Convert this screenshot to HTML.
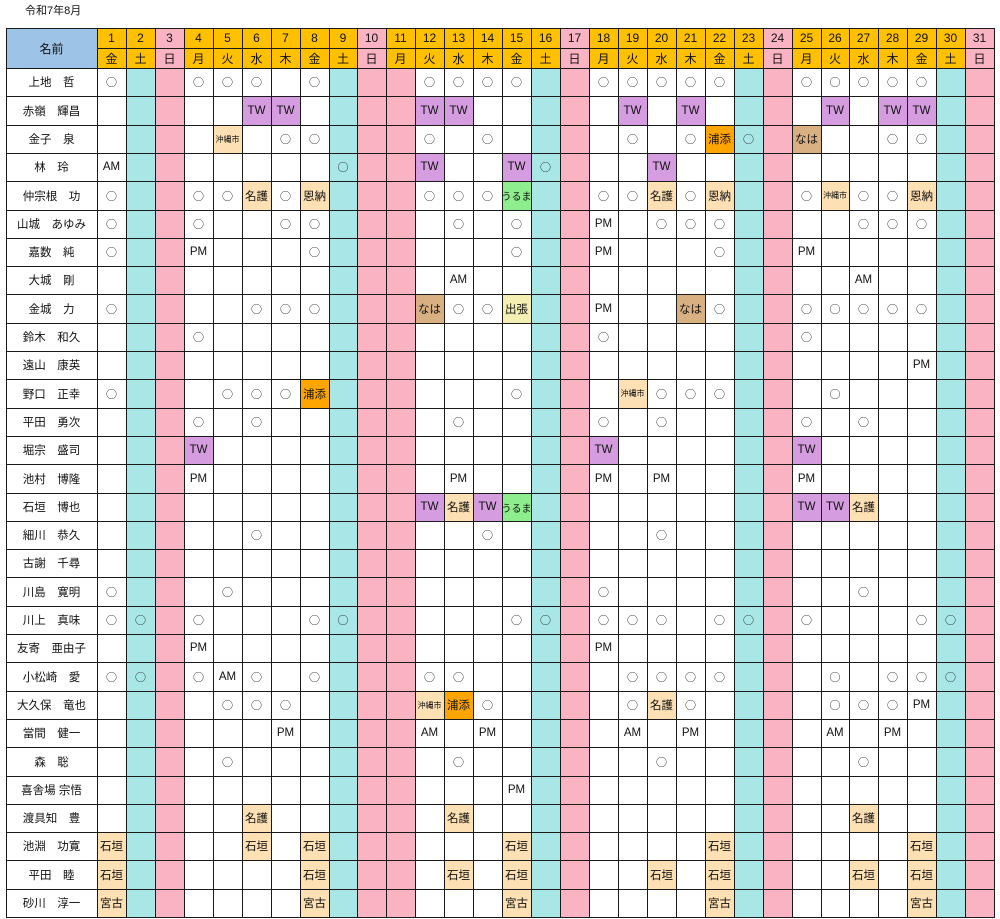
<!DOCTYPE html>
<html lang="ja">
<head>
<meta charset="utf-8">
<title>令和7年8月 スケジュール</title>
<style>
  html,body{margin:0;padding:0;background:#fff;}
  body{width:1000px;height:919px;overflow:hidden;position:relative;
       font-family:"Liberation Sans","Noto Sans CJK JP",sans-serif;color:#111;}
  #title{position:absolute;left:25px;top:2px;font-size:11px;}
  #grid{position:absolute;left:0;top:0;width:1000px;height:919px;}
  .c{position:absolute;box-sizing:border-box;display:flex;align-items:center;justify-content:center;
     font-size:11px;white-space:nowrap;overflow:hidden;}
  .o{font-family:"Noto Sans CJK JP",sans-serif;}
  .ln{position:absolute;background:#1a1a1a;}
</style>
</head>
<body>
<div id="title">令和7年8月</div>
<div id="grid"></div>
<script>
const days = [1,2,3,4,5,6,7,8,9,10,11,12,13,14,15,16,17,18,19,20,21,22,23,24,25,26,27,28,29,30,31];
const weekdays = ["金","土","日","月","火","水","木","金","土","日","月","火","水","木","金","土","日","月","火","水","木","金","土","日","月","火","水","木","金","土","日"];
const holidays = [11];
const names = ["上地　哲","赤嶺　輝昌","金子　泉","林　玲","仲宗根　功","山城　あゆみ","嘉数　純","大城　剛","金城　力","鈴木　和久","遠山　康英","野口　正幸","平田　勇次","堀宗　盛司","池村　博隆","石垣　博也","細川　恭久","古謝　千尋","川島　寛明","川上　真味","友寄　亜由子","小松崎　愛","大久保　竜也","當間　健一","森　聡","喜舎場 宗悟","渡具知　豊","池淵　功寛","平田　睦","砂川　淳一"];
const entries = [
 "1:○,4:○,5:○,6:○,8:○,12:○,13:○,14:○,15:○,18:○,19:○,20:○,21:○,22:○,25:○,26:○,27:○,28:○,29:○",
 "6:TW,7:TW,12:TW,13:TW,19:TW,21:TW,26:TW,28:TW,29:TW",
 "5:沖縄市,7:○,8:○,12:○,14:○,19:○,21:○,22:浦添!,23:○,25:なは,28:○,29:○",
 "1:AM,9:○,12:TW,15:TW,16:○,20:TW",
 "1:○,4:○,5:○,6:名護,7:○,8:恩納,12:○,13:○,14:○,15:うるま,18:○,19:○,20:名護,21:○,22:恩納,25:○,26:沖縄市,27:○,28:○,29:恩納",
 "1:○,4:○,7:○,8:○,13:○,15:○,18:PM,20:○,21:○,22:○,27:○,28:○,29:○",
 "1:○,4:PM,8:○,15:○,18:PM,22:○,25:PM",
 "13:AM,27:AM",
 "1:○,6:○,7:○,8:○,12:なは,13:○,14:○,15:出張,18:PM,21:なは,22:○,25:○,26:○,27:○,28:○,29:○",
 "4:○,18:○,25:○",
 "29:PM",
 "1:○,5:○,6:○,7:○,8:浦添!,15:○,19:沖縄市,20:○,21:○,22:○,26:○",
 "4:○,6:○,13:○,18:○,20:○,25:○,27:○",
 "4:TW,18:TW,25:TW",
 "4:PM,13:PM,18:PM,20:PM,25:PM",
 "12:TW,13:名護,14:TW,15:うるま,25:TW,26:TW,27:名護",
 "6:○,14:○,20:○",
 "",
 "1:○,5:○,18:○,27:○",
 "1:○,2:○,4:○,8:○,9:○,15:○,16:○,18:○,19:○,20:○,22:○,23:○,25:○,29:○,30:○",
 "4:PM,18:PM",
 "1:○,2:○,4:○,5:AM,6:○,8:○,12:○,13:○,19:○,20:○,21:○,22:○,26:○,28:○,29:○,30:○",
 "5:○,6:○,7:○,12:沖縄市,13:浦添!,14:○,19:○,20:名護,21:○,26:○,27:○,28:○,29:PM",
 "7:PM,12:AM,14:PM,19:AM,21:PM,26:AM,28:PM",
 "5:○,13:○,20:○,27:○",
 "15:PM",
 "6:名護,13:名護,27:名護",
 "1:石垣,6:石垣,8:石垣,15:石垣,22:石垣,29:石垣",
 "1:石垣,8:石垣,13:石垣,15:石垣,20:石垣,22:石垣,27:石垣,29:石垣",
 "1:宮古,8:宮古,15:宮古,22:宮古,29:宮古"
];

const X0=6, NAMEW=91, COLW=28.94, Y0=28, HH=20, ROWH=28.3;
const g=document.getElementById('grid');
function colX(i){return Math.round(X0+NAMEW+i*COLW);}
function rowY(r){return Math.round(Y0+2*HH+r*ROWH);}
function cell(x,y,w,h,bg,txt,fs){
  const d=document.createElement('div');
  d.className='c';
  d.style.left=x+'px';d.style.top=y+'px';d.style.width=w+'px';d.style.height=h+'px';
  if(bg)d.style.background=bg;
  if(fs)d.style.fontSize=fs+'px';
  d.textContent=txt||'';
  g.appendChild(d);return d;
}
function line(x,y,w,h){const d=document.createElement('div');d.className='ln';
  d.style.left=x+'px';d.style.top=y+'px';d.style.width=w+'px';d.style.height=h+'px';g.appendChild(d);return d;}

const ORANGE='#ffc000',PINK='#f9b3c2',CYAN='#a9e7e7';
function isSun(i){return weekdays[i]==='日';}
function isSat(i){return weekdays[i]==='土';}
function isRed(i){return isSun(i)||holidays.includes(days[i]);}
function styleFor(v){
  if(v.endsWith('!'))return ['#ffa500',v.slice(0,-1)];
  if(v==='TW')return ['#d59de0',v];
  if(v==='なは')return ['#d8b082',v];
  if(v==='うるま')return ['#8eee8e',v];
  if(v==='出張')return ['#f6efb4',v];
  if(v==='○'||v==='AM'||v==='PM')return [null,v];
  return ['#fde0b3',v];
}

// header
let h=cell(X0,Y0,NAMEW,2*HH,'#9dc3e6','名前',12);


days.forEach((d,i)=>{
  const bg=isSun(i)?PINK:ORANGE;
  const w=colX(i+1)-colX(i);
  const a=cell(colX(i),Y0,w,HH,bg,String(d),12);
  
  
  const b=cell(colX(i),Y0+HH,w,HH,bg,weekdays[i],12);
  
  
});

// body
names.forEach((n,r)=>{
  const y=rowY(r), hgt=rowY(r+1)-y;
  const nc=cell(X0,y,NAMEW,hgt,'#fff',n,11.5);
  
  
  const map={};
  if(entries[r])entries[r].split(',').forEach(p=>{const k=p.indexOf(':');map[+p.slice(0,k)]=p.slice(k+1);});
  days.forEach((d,i)=>{
    let bg=isRed(i)?PINK:(isSat(i)?CYAN:'#fff');
    let txt='',fs=11.5;
    if(map[d]){const s=styleFor(map[d]);if(s[0])bg=s[0];txt=s[1];
      if(txt==='沖縄市')fs=8;if(txt==='うるま')fs=10;}
    const c=cell(colX(i),y,colX(i+1)-colX(i),hgt,bg,txt,fs);
    if(txt==='○'){c.classList.add('o');c.style.fontSize='11px';}
    
    
  });
});

// grid lines
const bottom=rowY(names.length);
const right=colX(days.length);
line(X0,Y0,1,bottom-Y0+1);
line(X0+NAMEW,Y0,1,bottom-Y0);
days.forEach((d,i)=>{line(colX(i+1),Y0,1,bottom-Y0);});
line(X0,Y0,right-X0+1,1);
line(X0+NAMEW,Y0+HH,right-X0-NAMEW,1);
line(X0,Y0+2*HH,right-X0+1,1);
for(let r=1;r<=names.length;r++)line(X0,rowY(r),right-X0+1,1);
</script>
</body>
</html>
